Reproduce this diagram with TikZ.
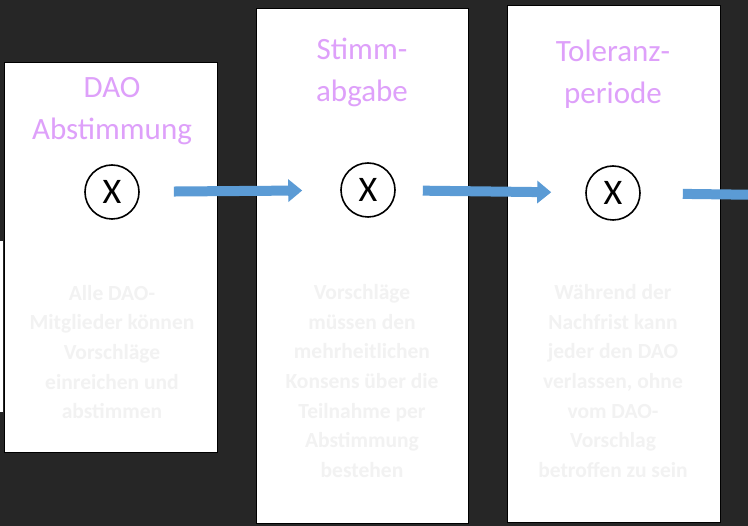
\documentclass[tikz,border=0pt]{standalone}
\usepackage{fontspec}
\setmainfont{Carlito}
\usetikzlibrary{arrows.meta, positioning}
\definecolor{bgdark}{RGB}{38, 38, 38}
\definecolor{titleviolet}{RGB}{222, 160, 250}
\definecolor{faintgray}{RGB}{242, 242, 242}
\definecolor{flowblue}{RGB}{91, 155, 213}

\begin{document}
\begin{tikzpicture}[x=1pt, y=-1pt,
  panel/.style={draw=black, fill=white, line width=0.8pt},
  phase/.style={font=\fontsize{31}{42}\selectfont, text=titleviolet, align=center},
  note/.style={font=\fontsize{21.5}{29.7}\selectfont\bfseries, text=faintgray, align=center},
  marker/.style={draw, circle, line width=1.6pt, minimum size=54pt, inner sep=0pt,
                 font=\fontsize{36}{36}\selectfont},
  flow/.style={flowblue, line width=10pt, -{Triangle[width=22pt, length=14pt]}},
]
% Background
\fill[bgdark] (0, 0) rectangle (748, 526);
\useasboundingbox (0, 0) rectangle (748, 526);
\clip (0, 0) rectangle (748, 526);
\fill[white] (0, 241) rectangle (3, 412);

% Panels
\draw[panel] (4, 62) rectangle (217, 452);
\draw[panel] (256, 8) rectangle (468, 523);
\draw[panel] (507, 5) rectangle (720, 522);

% Titles
\node[phase] (t1) at (112, 111) {DAO\\Abstimmung};
\node[phase] (t2) at (362, 72) {Stimm-\\abgabe};
\node[phase] (t3) at (613, 74) {Toleranz-\\periode};

% Markers
\node[marker] (m1) at (112, 192) {X};
\node[marker] (m2) at (368, 190) {X};
\node[marker] (m3) at (613, 193) {X};
\coordinate (exit) at (770, 195);

% Arrows
\draw[flow, shorten <=34pt, shorten >=38pt] (m1) -- (m2);
\draw[flow, shorten <=27pt, shorten >=34pt] (m2) -- (m3);
\draw[flow, shorten <=42pt] (m3) -- (exit);

% Descriptions
\node[note] (d1) at (112, 352) {Alle DAO-\\Mitglieder können\\Vorschläge\\einreichen und\\abstimmen};
\node[note] (d2) at (362, 381) {Vorschläge\\müssen den\\mehrheitlichen\\Konsens über die\\Teilnahme per\\Abstimmung\\bestehen};
\node[note] (d3) at (613, 381) {Während der\\Nachfrist kann\\jeder den DAO\\verlassen, ohne\\vom DAO-\\Vorschlag\\betroffen zu sein};
\end{tikzpicture}
\end{document}
